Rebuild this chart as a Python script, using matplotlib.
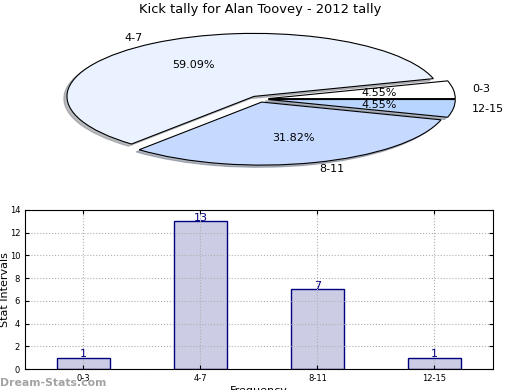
import numpy as np
import matplotlib
matplotlib.use("Agg")
import matplotlib.pyplot as plt

# kick tally data
labels = ["0-3", "4-7", "8-11", "12-15"]
counts = [1, 13, 7, 1]
pie_colors = ["#FFFFFF", "#EAF1FF", "#C6D9FF", "#B8D5FF"]
explode = [0.05, 0.05, 0.05, 0.05]

fig = plt.figure(figsize=(5.2, 3.9), dpi=100)

# top: squashed exploded pie
ax1 = fig.add_axes([0.0486, 0.544, 0.899, 0.404])
wedges, texts, autotexts = ax1.pie(counts, labels=labels, colors=pie_colors,
                                   explode=explode, autopct="%.2f%%",
                                   shadow={"ox": -0.012, "oy": -0.025, "shade": 0.5},
                                   startangle=0,
                                   wedgeprops={"edgecolor": "black", "linewidth": 0.8},
                                   textprops={"fontsize": 8})
ax1.set_aspect("auto")
ax1.set_xlim(-1.25, 1.25)
ax1.set_ylim(-1.25, 1.25)
fig.text(0.5, 1 - 10 / 390, "Kick tally for Alan Toovey - 2012 tally",
         ha="center", va="center", fontsize=9.4)

# bottom: bar chart
ax2 = fig.add_axes([0.048, 0.0538, 0.9, 0.408])
x = np.arange(len(labels))
bars = ax2.bar(x, counts, width=0.45, color="#CCCCE5", edgecolor="#000080", linewidth=1)
for xi, c in zip(x, counts):
    ax2.text(xi, c - 0.15, str(c), ha="center", va="bottom", color="#000080", fontsize=8)
ax2.set_xlim(-0.5, 3.5)
ax2.set_ylim(0, 14)
ax2.set_yticks(range(0, 15, 2))
ax2.set_xticks(x)
ax2.set_xticklabels(labels)
ax2.tick_params(labelsize=6, direction="in", top=True, right=True, length=3)
ax2.grid(True, linestyle=":", color="#b0b0b0", linewidth=0.8)
ax2.set_xlabel("Frequency", fontsize=8, labelpad=2)

fig.text(5 / 520, 1 - 290 / 390, "Stat Intervals", rotation=90, fontsize=8,
         ha="center", va="center")

fig.text(0.0, 0.005, "Dream-Stats.com", color="#999999", fontsize=7.8,
         fontweight="bold", ha="left", va="bottom", alpha=0.9)

fig.savefig("out.png", dpi=100)
